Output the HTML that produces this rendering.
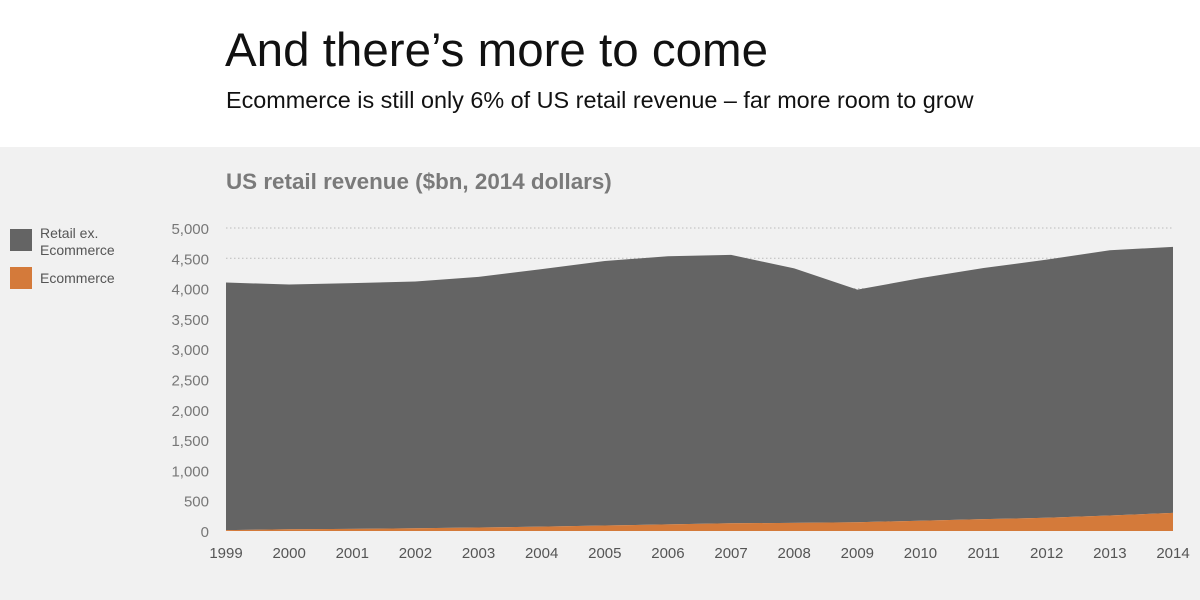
<!DOCTYPE html>
<html><head><meta charset="utf-8"><style>
body{margin:0;width:1200px;height:600px;background:#fff;font-family:"Liberation Sans",sans-serif;overflow:hidden;position:relative}
#title{position:absolute;left:225px;top:23px;font-size:47.5px;color:#111;margin:0;font-weight:normal}
#sub{position:absolute;left:226px;top:87px;font-size:23.4px;color:#111}
#panel{position:absolute;left:0;top:147px;width:1200px;height:453px;background:#f1f1f1}
</style></head><body>
<h1 id="title">And there’s more to come</h1>
<div id="sub">Ecommerce is still only 6% of US retail revenue – far more room to grow</div>
<div id="panel"></div>
<svg id="chart" width="1200" height="600" style="position:absolute;left:0;top:0">
<text x="226" y="189" font-size="22.4" font-weight="bold" fill="#7a7a7a">US retail revenue ($bn, 2014 dollars)</text>
<rect x="10" y="229" width="22" height="22" fill="#646464"/>
<text x="40" y="238" font-size="14" fill="#555"><tspan x="40">Retail ex.</tspan><tspan x="40" dy="17">Ecommerce</tspan></text>
<rect x="10" y="267" width="22" height="22" fill="#d47a3a"/>
<text x="40" y="283" font-size="14" fill="#555">Ecommerce</text>
<g id="grid"></g><g id="areas"></g><g id="axes"></g>
</svg>
<script>
const years=[1999,2000,2001,2002,2003,2004,2005,2006,2007,2008,2009,2010,2011,2012,2013,2014];
const ecommerce=[15,28,35,45,57,72,90,110,127,135,145,170,195,218,255,300];
const retailEx=[4085,4039,4055,4072,4137,4250,4366,4423,4429,4198,3838,4002,4144,4260,4378,4389];
const yTicks=[0,500,1000,1500,2000,2500,3000,3500,4000,4500,5000];
const NS='http://www.w3.org/2000/svg';
const X0=226,X1=1173,Y0=531,Y1=228;
const xs=i=>X0+(X1-X0)*i/(years.length-1);
const ys=v=>Y0-(Y0-Y1)*v/5000;
const gridG=document.getElementById('grid'),areasG=document.getElementById('areas'),axesG=document.getElementById('axes');
function mk(t,a,p){const e=document.createElementNS(NS,t);for(const k in a)e.setAttribute(k,a[k]);p.appendChild(e);return e;}
yTicks.forEach(v=>{
  if(v>0){const l=mk('line',{x1:X0,x2:X1,y1:ys(v),y2:ys(v),stroke:'#bbb','stroke-dasharray':'1.5 2.5','stroke-width':1},gridG);
  
  }
  const t=mk('text',{x:209,y:ys(v)+6,'text-anchor':'end','font-size':15,fill:'#777'},axesG);
  t.textContent=v.toLocaleString('en-US');
  
  
});
years.forEach((y,i)=>{
  const t=mk('text',{x:xs(i),y:558,'text-anchor':'middle','font-size':15,fill:'#555'},axesG);
  t.textContent=y;
  
  
});
let topPath='',midPath='';
years.forEach((y,i)=>{topPath+=(i?'L':'M')+xs(i)+','+ys(ecommerce[i]+retailEx[i]);midPath+=(i?'L':'M')+xs(i)+','+ys(ecommerce[i]);});
let midRev='';for(let i=years.length-1;i>=0;i--)midRev+='L'+xs(i)+','+ys(ecommerce[i]);
const a1=mk('path',{d:topPath+midRev+'Z',fill:'#646464'},areasG);


const a2=mk('path',{d:midPath+'L'+X1+','+Y0+'L'+X0+','+Y0+'Z',fill:'#d47a3a'},areasG);


</script>
</body></html>
